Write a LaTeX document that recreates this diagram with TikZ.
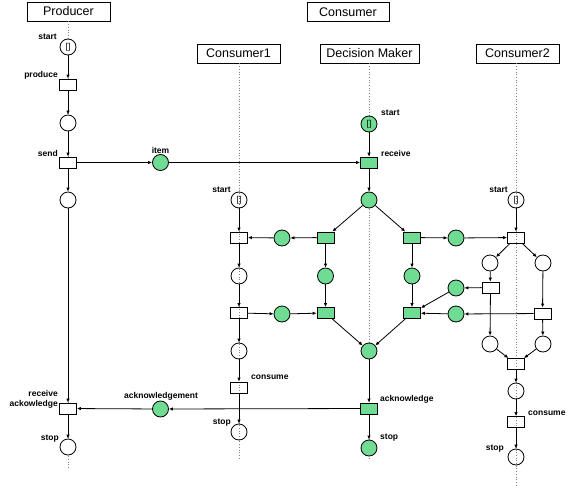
\documentclass[tikz,border=0pt]{standalone}
\usepackage{fontspec}
\setmainfont{Liberation Sans}
\usetikzlibrary{arrows.meta}

\definecolor{placegreen}{RGB}{112,219,146}

\tikzset{
  place/.style={circle, draw, line width=0.8pt, minimum size=16pt, inner sep=0pt, font=\fontsize{8.5}{9}\selectfont},
  trans/.style={rectangle, draw, line width=0.8pt, minimum width=17pt, minimum height=11pt, inner sep=0pt},
  shared/.style={fill=placegreen},
  local/.style={fill=white},
  header/.style={rectangle, draw, line width=0.8pt, minimum height=19pt, inner sep=0pt, font=\fontsize{12.5}{14}\selectfont},
  lifeline/.style={gray, dotted, line width=0.7pt},
  arc/.style={-{Latex[length=4pt,width=3.5pt]}, line width=0.8pt},
  lbl/.style={inner sep=0pt, font=\bfseries\fontsize{8.5}{9.5}\selectfont},
}

\begin{document}
\begin{tikzpicture}[x=1pt, y=-1pt]
  \useasboundingbox (0,0) rectangle (571,490);

  % Headers
  \node[header, minimum width=83pt] (hprod) at (68.5,11.5) {Producer};
  \node[header, minimum width=82pt] (hcons) at (348,12) {Consumer};
  \node[header, minimum width=83pt] (hcfirst) at (238.5,53.5) {Consumer1};
  \node[header, minimum width=99pt] (hdm) at (369.5,53.5) {Decision Maker};
  \node[header, minimum width=83pt] (hcsecond) at (517.5,53.5) {Consumer2};

  % Lifelines
  \coordinate (eprod) at (68,468);
  \coordinate (ecfirst) at (239,460);
  \coordinate (edm) at (369,459);
  \coordinate (ecsecond) at (516,485);
  \draw[lifeline] (hprod.south -| eprod) -- (eprod);
  \draw[lifeline] (hcfirst.south -| ecfirst) -- (ecfirst);
  \draw[lifeline] (hdm.south -| edm) -- (edm);
  \draw[lifeline] (hcsecond.south -| ecsecond) -- (ecsecond);

  % Producer
  \node[place, local] (pstart) at (68,47) {[]};
  \node[trans, local] (pproduce) at (68,84.5) {};
  \node[place, local] (pwait) at (68,123) {};
  \node[trans, local] (psend) at (68,162.5) {};
  \node[place, local] (psent) at (68,200) {};
  \node[trans, local] (precv) at (68,408.5) {};
  \node[place, local] (pstop) at (68,447) {};

  % Shared places
  \node[place, shared] (item) at (160.5,162.5) {};
  \node[place, shared] (ackn) at (160.5,409) {};

  % Decision Maker
  \node[place, shared] (dstart) at (369,124) {[]};
  \node[trans, shared] (drecv) at (369,162.5) {};
  \node[place, shared] (dchoice) at (369,200) {};
  \node[trans, shared] (dtl) at (325.5,237.5) {};
  \node[trans, shared] (dtr) at (412,237.5) {};
  \node[place, shared] (dpl) at (325.5,276) {};
  \node[place, shared] (dpr) at (412,276) {};
  \node[trans, shared] (dbl) at (325.5,313) {};
  \node[trans, shared] (dbr) at (412,313) {};
  \node[place, shared] (djoin) at (369,351) {};
  \node[trans, shared] (dack) at (369,408.5) {};
  \node[place, shared] (dstop) at (369,448) {};

  % Consumer1
  \node[place] (cfstart) at (239,200) {[]};
  \node[trans] (cfta) at (239,237.5) {};
  \node[place] (cfpa) at (239,276) {};
  \node[trans] (cftb) at (239,313) {};
  \node[place] (cfpb) at (239,351) {};
  \node[trans] (cfcons) at (239,387.5) {};
  \node[place] (cfstop) at (239,432) {};
  \node[place, shared] (gfa) at (282,238) {};
  \node[place, shared] (gfb) at (282,314) {};

  % Consumer2
  \node[place] (csstart) at (516,200) {[]};
  \node[trans] (csta) at (516,237.5) {};
  \node[place] (cspl) at (490,263) {};
  \node[place] (cspr) at (543,263) {};
  \node[trans] (cstl) at (490.5,287.5) {};
  \node[trans] (cstr) at (542.5,313.5) {};
  \node[place] (cspbl) at (490,344) {};
  \node[place] (cspbr) at (543,344) {};
  \node[trans] (csjoin) at (516,364) {};
  \node[place] (csp) at (516,391) {};
  \node[trans] (cscons) at (516,422) {};
  \node[place] (csstop) at (516,457) {};
  \node[place, shared] (gsa) at (456,238) {};
  \node[place, shared] (gsb) at (456,288) {};
  \node[place, shared] (gsc) at (456,314) {};

  % Arcs
  \draw[arc] (pstart) -- (pproduce);
  \draw[arc] (pproduce) -- (pwait);
  \draw[arc] (pwait) -- (psend);
  \draw[arc] (psend) -- (psent);
  \draw[arc] (psent) -- (precv);
  \draw[arc] (precv) -- (pstop);
  \draw[arc] (psend) -- (item);
  \draw[arc] (item) -- (drecv);
  \draw[arc] (dack) -- (ackn);
  \draw[arc] (ackn) -- (precv);

  \draw[arc] (dstart) -- (drecv);
  \draw[arc] (drecv) -- (dchoice);
  \draw[arc] (dchoice) -- (dtl);
  \draw[arc] (dchoice) -- (dtr);
  \draw[arc] (dtl) -- (dpl);
  \draw[arc] (dtr) -- (dpr);
  \draw[arc] (dpl) -- (dbl);
  \draw[arc] (dpr) -- (dbr);
  \draw[arc] (dbl) -- (djoin);
  \draw[arc] (dbr) -- (djoin);
  \draw[arc] (djoin) -- (dack);
  \draw[arc] (dack) -- (dstop);

  \draw[arc] (cfstart) -- (cfta);
  \draw[arc] (cfta) -- (cfpa);
  \draw[arc] (cfpa) -- (cftb);
  \draw[arc] (cftb) -- (cfpb);
  \draw[arc] (cfpb) -- (cfcons);
  \draw[arc] (cfcons) -- (cfstop);
  \draw[arc] (dtl) -- (gfa);
  \draw[arc] (gfa) -- (cfta);
  \draw[arc] (cftb) -- (gfb);
  \draw[arc] (gfb) -- (dbl);

  \draw[arc] (csstart) -- (csta);
  \draw[arc] (csta) -- (cspl);
  \draw[arc] (csta) -- (cspr);
  \draw[arc] (cspl) -- (cstl);
  \draw[arc] (cspr) -- (cstr);
  \draw[arc] (cstl) -- (cspbl);
  \draw[arc] (cstr) -- (cspbr);
  \draw[arc] (cspbl) -- (csjoin);
  \draw[arc] (cspbr) -- (csjoin);
  \draw[arc] (csjoin) -- (csp);
  \draw[arc] (csp) -- (cscons);
  \draw[arc] (cscons) -- (csstop);
  \draw[arc] (dtr) -- (gsa);
  \draw[arc] (gsa) -- (csta);
  \draw[arc] (cstl) -- (gsb);
  \draw[arc] (gsb) -- (dbr);
  \draw[arc] (cstr) -- (gsc);
  \draw[arc] (gsc) -- (dbr);

  % Labels
  \node[lbl, anchor=east] (lpstart) at (57,37) {start};
  \node[lbl, anchor=east] (lpproduce) at (58,75) {produce};
  \node[lbl, anchor=east] (lpsend) at (58,153) {send};
  \node[lbl, anchor=east, align=right] (lprecv) at (58,399.5) {receive\\ackowledge};
  \node[lbl, anchor=east] (lpstop) at (59,439) {stop};
  \node[lbl] (litem) at (160.5,150) {item};
  \node[lbl] (lackn) at (161,396) {acknowledgement};
  \node[lbl, anchor=west] (ldstart) at (381,113) {start};
  \node[lbl, anchor=west] (ldrecv) at (381,153) {receive};
  \node[lbl, anchor=west] (ldack) at (380,399) {acknowledge};
  \node[lbl, anchor=west] (ldstop) at (380,438) {stop};
  \node[lbl, anchor=east] (lcfstart) at (231,190) {start};
  \node[lbl, anchor=west] (lcfcons) at (251,377) {consume};
  \node[lbl, anchor=east] (lcfstop) at (231,423) {stop};
  \node[lbl, anchor=east] (lcsstart) at (508,190) {start};
  \node[lbl, anchor=west] (lcscons) at (528,413) {consume};
  \node[lbl, anchor=east] (lcsstop) at (504,449) {stop};
\end{tikzpicture}
\end{document}
